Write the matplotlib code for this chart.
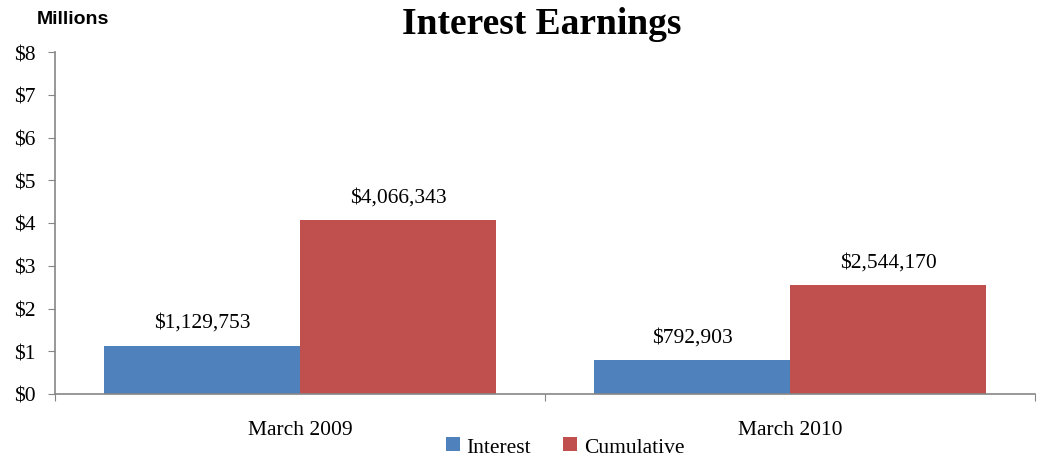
import matplotlib
matplotlib.use("Agg")
import matplotlib.pyplot as plt
import numpy as np

categories = ["March 2009", "March 2010"]
interest = [1129753, 792903]
cumulative = [4066343, 2544170]
series_names = ["Interest", "Cumulative"]
colors = ["#4F81BD", "#C0504D"]
yticks = [0, 1, 2, 3, 4, 5, 6, 7, 8]

plt.rcParams['font.family'] = ['Liberation Serif', 'DejaVu Serif']

fig = plt.figure(figsize=(10.4, 4.56), dpi=100)
ax = fig.add_axes([55/1040, 1-395/456, 980/1040, (395-53)/456])

x = np.arange(len(categories))
w = 0.4
vals = [np.array(interest)/1e6, np.array(cumulative)/1e6]
raw = [interest, cumulative]
for i, (v, r) in enumerate(zip(vals, raw)):
    pos = x - w/2 + i*w
    bars = ax.bar(pos, v, width=w, color=colors[i], label=series_names[i], align='center')
    for b, rv in zip(bars, r):
        ax.annotate(f"${rv:,}", (b.get_x()+b.get_width()/2, b.get_height()),
                    xytext=(0, 10), textcoords='offset points', ha='center', va='bottom',
                    fontsize=15.5)

ax.set_xlim(-0.5, len(categories)-0.5)
ax.set_ylim(0, 8)
ax.set_yticks(yticks)
ax.set_yticklabels([f"${t}" for t in yticks], fontsize=15.5)
ax.set_xticks([-0.5, 0.5, 1.5])
ax.set_xticklabels([])
ax.set_xticks(x, minor=True)
ax.set_xticklabels(categories, minor=True, fontsize=15.5)
ax.tick_params(axis='x', which='minor', length=0, pad=19)
ax.tick_params(axis='x', which='major', length=5, color='#868686')
ax.tick_params(axis='y', length=5, color='#868686', pad=9)
for s in ['top', 'right']:
    ax.spines[s].set_visible(False)
for s in ['left', 'bottom']:
    ax.spines[s].set_color('#868686')
    ax.spines[s].set_linewidth(1.2)

fig.text(542/1040, 1-25/456, "Interest Earnings", ha='center', va='center', fontsize=27, fontweight='bold')
fig.text(37/1040, 1-19/456, "Millions", ha='left', va='center', fontsize=14, fontweight='bold',
         family=['Liberation Sans', 'DejaVu Sans'])

fig.legend(loc='center', bbox_to_anchor=(565/1040, 1-448/456), ncol=2, frameon=False, fontsize=15.5,
           handlelength=0.65, handleheight=0.65, handletextpad=0.3, columnspacing=1.5,
           borderpad=0)

fig.savefig("out.png", dpi=100)
